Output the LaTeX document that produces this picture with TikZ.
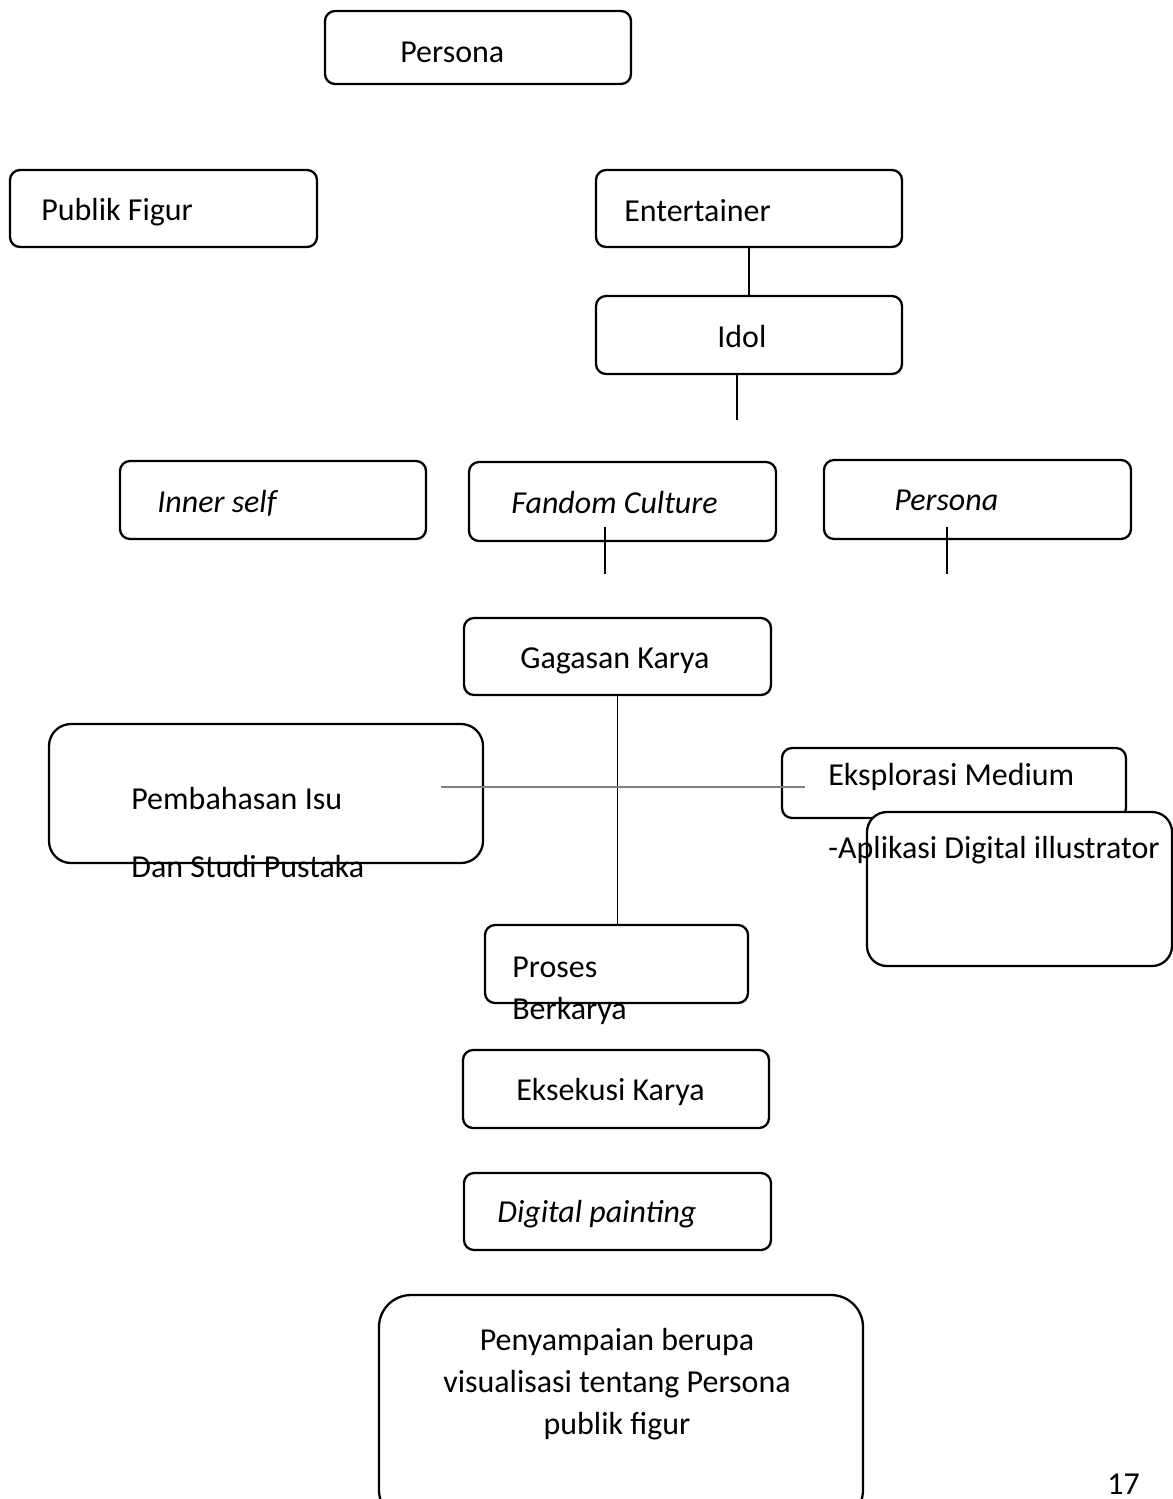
\documentclass[tikz,border=0pt]{standalone}
\usepackage{fontspec}
\setmainfont{Carlito}
\usetikzlibrary{fit}

\colorlet{boxLine}{black}
\colorlet{linkLine}{black}
\colorlet{crossLine}{gray}

\begin{document}
\begin{tikzpicture}[x=0.02cm, y=-0.02cm,
    every node/.style={font=\fontsize{18.2}{23.8}\selectfont},
    box/.style={draw=boxLine, line width=1.3pt, fill=white,
                rounded corners=0.2cm, inner sep=0pt},
    txt/.style={anchor=base west, inner sep=0pt},
    link/.style={draw=linkLine, line width=0.9pt}]
        \useasboundingbox (0,0) rectangle (1173,1499);
        \clip (0,0) rectangle (1173,1499);

        % top row
        \node[box, fit={(325,11) (631,84)}] (persona) {};
        \node[txt] (persona-t) at (400,62) {Persona};
        \node[box, fit={(10,170) (317,247)}] (publik) {};
        \node[txt] (publik-t) at (41,220) {Publik Figur};
        \node[box, fit={(596,170) (902,247)}] (entertainer) {};
        \node[txt] (entertainer-t) at (624,221) {Entertainer};
        \node[box, fit={(596,296) (902,374)}] (idol) {};
        \node[txt] (idol-t) at (717,347) {Idol};

        % three themes
        \node[box, fit={(120,461) (426,539)}] (inner) {};
        \node[txt] (inner-t) at (157,512) {\itshape Inner self};
        \node[box, fit={(469,462) (776,541)}] (fandom) {};
        \node[txt] (fandom-t) at (511,513) {\itshape Fandom Culture};
        \node[box, fit={(824,460) (1131,539)}] (persona2) {};
        \node[txt] (persona2-t) at (894,510) {\itshape Persona};

        % idea and sources
        \node[box, fit={(464,618) (771,695)}] (gagasan) {};
        \node[txt] (gagasan-t) at (520,668) {Gagasan Karya};
        \node[box, rounded corners=0.44cm, fit={(49,724) (483,863)}] (pembahasan) {};
        \node[txt] (pembahasan-t) at (131,809) {Pembahasan Isu};
        \node[txt] (pustaka-t) at (131,877) {Dan Studi Pustaka};
        \node[box, fit={(782,748) (1126,818)}] (eksplorasi) {};
        \node[txt] (eksplorasi-t) at (828,785) {Eksplorasi Medium};
        \node[box, rounded corners=0.4cm, fit={(867,812) (1172,966)}] (aplikasi) {};
        \node[txt] (aplikasi-t) at (828,858) {-Aplikasi Digital illustrator};

        % process
        \node[box, fit={(485,925) (748,1003)}] (proses) {};
        \node[txt] (proses-t) at (512,977) {Proses};
        \node[txt] (berkarya-t) at (512,1019) {Berkarya};
        \node[box, fit={(463,1050) (769,1128)}] (eksekusi) {};
        \node[txt] (eksekusi-t) at (516,1100) {Eksekusi Karya};
        \node[box, fit={(464,1173) (771,1250)}] (digital) {};
        \node[txt] (digital-t) at (497,1222) {\itshape Digital painting};
        \node[box, rounded corners=0.64cm, fit={(379,1295) (863,1522)}] (hasil) {};
        \node[anchor=base, inner sep=0pt] (hasil-a) at (617,1350) {Penyampaian berupa};
        \node[anchor=base, inner sep=0pt] (hasil-b) at (617,1392) {visualisasi tentang Persona};
        \node[anchor=base, inner sep=0pt] (hasil-c) at (617,1434) {publik figur};
        \node[txt] (page) at (1107,1494) {17};

        % connectors
        \coordinate (idol-end) at (737,420);
        \coordinate (fandom-a) at (605,527);
        \coordinate (fandom-b) at (605,574);
        \coordinate (persona2-a) at (947,527);
        \coordinate (persona2-b) at (947,574);
        \coordinate (cross-a) at (441,787);
        \coordinate (cross-b) at (805,787);
        \draw[link] (entertainer.south) -- (idol.north);
        \draw[link] (idol.south -| idol-end) -- (idol-end);
        \draw[link] (fandom-a) -- (fandom-b);
        \draw[link] (persona2-a) -- (persona2-b);
        \draw[link] (gagasan.south) -- (gagasan.south |- proses.north);
        \draw[draw=crossLine, line width=1.1pt] (cross-a) -- (cross-b);
\end{tikzpicture}
\end{document}
